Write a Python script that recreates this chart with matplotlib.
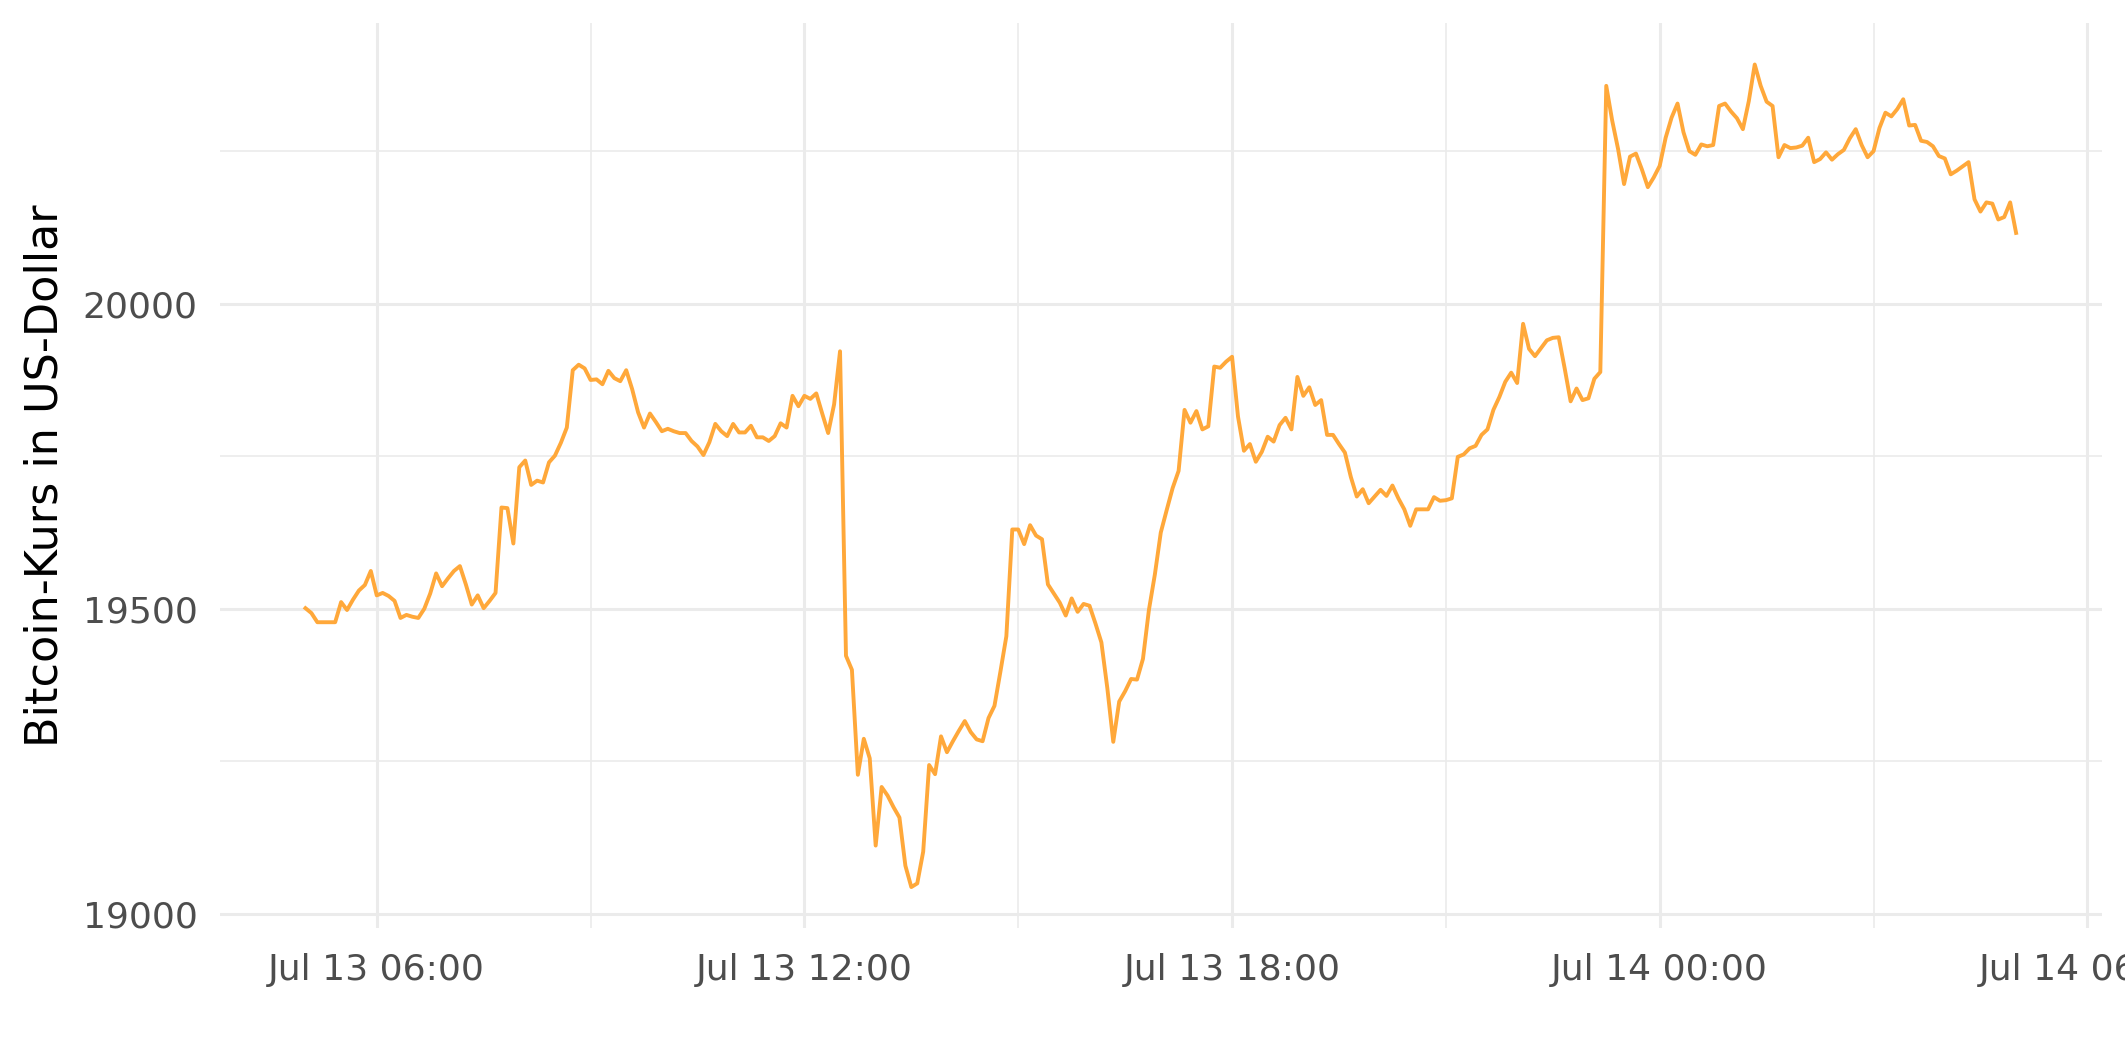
import matplotlib
matplotlib.use("Agg")
from matplotlib import pyplot as plt
import matplotlib.dates as mdates
from matplotlib.ticker import MultipleLocator
import pandas as pd

# Bitcoin price, 5-minute steps, starting Jul 13 05:00
start = "2022-07-13 05:00"
prices = [
    19501, 19493, 19478, 19478, 19478, 19478, 19511, 19498, 19515, 19530,
    19539, 19562, 19522, 19526, 19521, 19513, 19485, 19490, 19487, 19485,
    19500, 19525, 19558, 19537, 19550, 19562, 19570, 19540, 19507, 19522,
    19501, 19513, 19526, 19666, 19665, 19607, 19732, 19743, 19703, 19710,
    19707, 19740, 19751, 19772, 19797, 19891, 19900, 19894, 19875, 19876,
    19868, 19890, 19878, 19873, 19891, 19860, 19822, 19797, 19820, 19806,
    19791, 19795, 19791, 19788, 19788, 19775, 19766, 19752, 19773, 19803,
    19791, 19783, 19803, 19789, 19789, 19800, 19781, 19781, 19775, 19783,
    19804, 19797, 19849, 19832, 19849, 19844, 19853, 19820, 19788, 19835,
    19922, 19423, 19400, 19228, 19287, 19255, 19112, 19208, 19194, 19175,
    19158, 19079, 19044, 19050, 19102, 19244, 19229, 19291, 19265, 19283,
    19300, 19316, 19298, 19286, 19283, 19321, 19341, 19397, 19455, 19630,
    19630, 19606, 19637, 19620, 19614, 19540, 19525, 19510, 19489, 19517,
    19495, 19508, 19505, 19476, 19445, 19370, 19282, 19348, 19365, 19385,
    19384, 19418, 19498, 19556, 19625, 19662, 19698, 19726, 19826, 19805,
    19824, 19794, 19799, 19897, 19895, 19905, 19913, 19815, 19759, 19770,
    19741, 19757, 19782, 19774, 19801, 19813, 19794, 19880, 19849, 19863,
    19834, 19842, 19785, 19785, 19770, 19756, 19716, 19684, 19696, 19673,
    19684, 19695, 19685, 19702, 19681, 19663, 19636, 19663, 19663, 19663,
    19683, 19677, 19678, 19681, 19749, 19753, 19763, 19767, 19785, 19794,
    19826, 19847, 19872, 19887, 19870, 19967, 19926, 19914, 19927, 19940,
    19944, 19945, 19894, 19840, 19861, 19842, 19845, 19877, 19888, 20357,
    20300, 20253, 20196, 20241, 20246, 20220, 20191, 20207, 20226, 20272,
    20305, 20328, 20281, 20250, 20244, 20261, 20258, 20260, 20324, 20328,
    20315, 20304, 20286, 20332, 20392, 20357, 20331, 20324, 20240, 20260,
    20255, 20256, 20259, 20272, 20232, 20237, 20248, 20236, 20245, 20252,
    20271, 20286, 20260, 20240, 20250, 20288, 20313, 20307, 20319, 20335,
    20292, 20293, 20267, 20265, 20258, 20242, 20238, 20212, 20218, 20225,
    20232, 20171, 20151, 20166, 20164, 20138, 20142, 20166, 20116,
]
times = pd.date_range(start, periods=len(prices), freq="5min")

y_ticks = [19000, 19500, 20000]
y_label = "Bitcoin-Kurs in US-Dollar"
line_color = "#FFA83A"
grid_color = "#EBEBEB"

plt.rcParams["font.family"] = "DejaVu Sans"
fig = plt.figure(figsize=(10.625, 5.31), dpi=200)
ax = fig.add_axes([0.1035, 0.126, 0.8855, 0.852])

ax.plot(times, prices, color=line_color, linewidth=1.4, zorder=3)
ax.margins(x=0.05, y=0.05)

ax.xaxis.set_major_locator(mdates.HourLocator(byhour=[0, 6, 12, 18]))
ax.xaxis.set_minor_locator(mdates.HourLocator(byhour=[3, 9, 15, 21]))
ax.xaxis.set_major_formatter(mdates.DateFormatter("%b %d %H:%M"))
ax.set_yticks(y_ticks)
ax.yaxis.set_minor_locator(MultipleLocator(250))

ax.grid(which="major", color=grid_color, linewidth=1.1, zorder=0)
ax.grid(which="minor", color=grid_color, linewidth=0.6, zorder=0)
for s in ax.spines.values():
    s.set_visible(False)
ax.tick_params(which="both", length=0)
ax.tick_params(axis="x", labelsize=13, labelcolor="#4D4D4D", pad=9)
ax.tick_params(axis="y", labelsize=13, labelcolor="#4D4D4D", pad=8)
ax.set_ylabel(y_label, fontsize=16, color="black", labelpad=6)

fig.savefig("out.png", dpi=200)
